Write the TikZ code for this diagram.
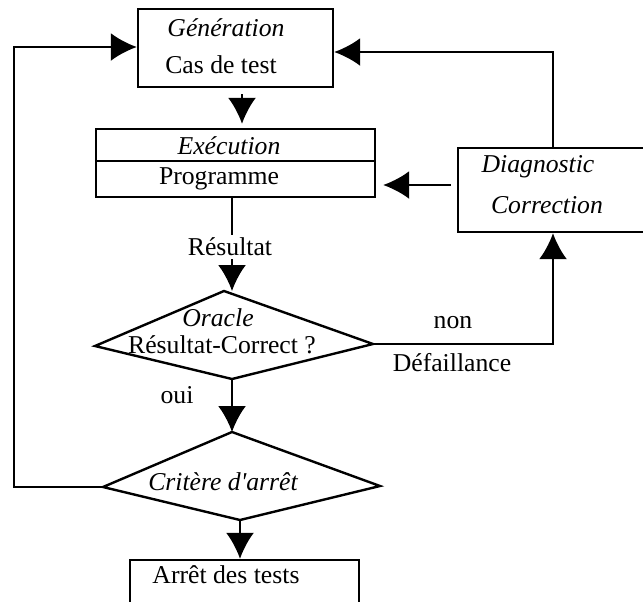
\documentclass[tikz,border=0pt]{standalone}
\usepackage{fontspec}
\setmainfont{Liberation Serif}
\usetikzlibrary{arrows.meta,calc}
\begin{document}
\begin{tikzpicture}[x=0.5pt,y=-0.5pt,
  line width=1.2pt,
  every node/.style={font=\fontsize{12.85}{15}\selectfont, inner sep=0pt},
  box/.style={draw, rectangle, line width=1.2pt, fill=white},
  arr/.style={-{Latex[length=13pt,width=14pt]}},
  lbl/.style={fill=white, inner sep=1.5pt},
]
\useasboundingbox (0,0) rectangle (643,601);
\clip (0,0) rectangle (643,601);

% helper coordinates
\coordinate (x242) at (242,0);
\coordinate (x232) at (232,0);
\coordinate (x553) at (553,0);
\coordinate (y185) at (0,185);
\coordinate (y161) at (0,161);
\coordinate (y52) at (0,52);
\coordinate (y47) at (0,47);
\coordinate (lc) at (14,487);

% boxes
\node[box, minimum width=97.5pt, minimum height=39pt] (gen) at (235.5,48) {};
\node[box, minimum width=139.5pt, minimum height=34pt] (exe) at (235.5,163) {};
\draw (exe.west |- y161) -- (exe.east |- y161);
\node[box, minimum width=101pt, minimum height=42pt] (diag) at (559,190) {};
\node[box, minimum width=114.5pt, minimum height=40pt] (stop) at (244.5,600) {};

% diamonds
\coordinate (oT) at (224,291);
\coordinate (oL) at (95,346);
\coordinate (oR) at (373,344);
\coordinate (oB) at (232,379);
\draw[fill=white] (oT) -- (oR) -- (oB) -- (oL) -- cycle;
\coordinate (cT) at (232,432);
\coordinate (cL) at (103,487);
\coordinate (cR) at (380,486);
\coordinate (cB) at (240,520);
\draw[fill=white] (cT) -- (cR) -- (cB) -- (cL) -- cycle;

% texts
\node (tgen) at (226,28) {\itshape Génération};
\node (tcas) at (221,65) {Cas de test};
\node (texe) at (229,146) {\itshape Exécution};
\node (tprog) at (219,179) {Programme};
\node (tdiag) at (538,167) {\itshape Diagnostic};
\node (tcorr) at (547,205) {\itshape Correction};
\node (torac) at (218,318) {\itshape Oracle};
\node (trc) at (222,345) {Résultat-Correct ?};
\node (tcrit) at (223,482) {\itshape Critère d\textquotesingle arrêt};
\node (tstop) at (226,575) {Arrêt des tests};

% connectors
\draw[arr, shorten <=3pt, shorten >=2pt] (gen.south -| x242) -- (exe.north -| x242);
\draw[arr, shorten <=3pt, shorten >=3.5pt] (diag.west |- y185) -- (exe.east |- y185);
\draw[arr] (diag.north -| x553) |- (gen.east |- y52);
\draw[arr] (exe.south -| x232) -- (oT -| x232);
\node[lbl] (res) at (230,247) {Résultat};
\draw[arr] (oR) -| (diag.south -| x553);
\node (non) at (453,323) {non};
\node (def) at (452,363) {Défaillance};
\draw[arr] (oB) -- (cT);
\node (oui) at (177,395) {oui};
\draw[arr] (cL) -- (lc) |- (gen.west |- y47);
\draw[arr] (cB) -- (stop.north -| cB);
\end{tikzpicture}
\end{document}
